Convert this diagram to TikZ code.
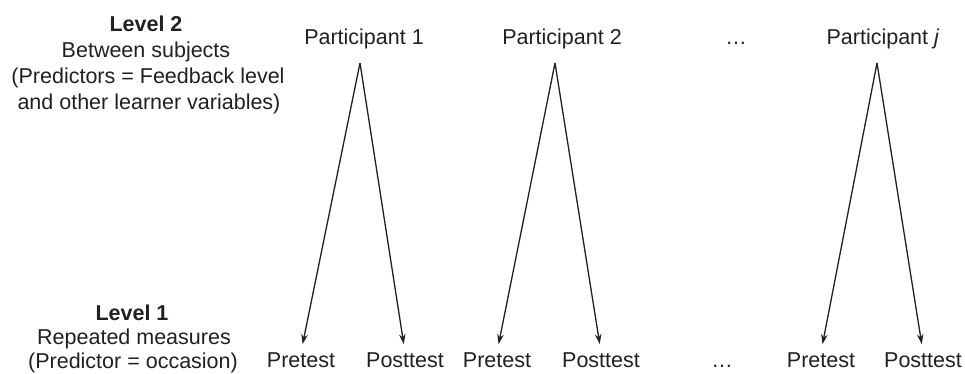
\documentclass[tikz,border=0pt]{standalone}
\usepackage{fontspec}
\setmainfont{Liberation Sans}
\usetikzlibrary{arrows.meta}
\definecolor{ink}{HTML}{231F20}
\begin{document}
\begin{tikzpicture}[x=1pt,y=-1pt,
  lbl/.style={inner sep=0pt,anchor=base,text=ink,font=\fontsize{21.5}{26}\selectfont},
  hd/.style={lbl,font=\fontsize{21.5}{26}\selectfont\bfseries},
  arr/.style={draw=ink,line width=1.3pt,shorten >=8pt,-{Stealth[length=10pt,width=6.5pt]}}]
\useasboundingbox (0,0) rectangle (965,374);
% left labels
\node[hd]  (l2a) at (146,32)  {Level 2};
\node[lbl] (l2b) at (146,58)  {Between subjects};
\node[lbl] (l2c) at (148,84)  {(Predictors = Feedback level};
\node[lbl] (l2d) at (149,110) {and other learner variables)};
\node[hd]  (l1a) at (132,320) {Level 1};
\node[lbl] (l1b) at (134,344) {Repeated measures};
\node[lbl] (l1c) at (133,368) {(Predictor = occasion)};
% participants
\node[lbl] (p1) at (364,45) {Participant 1};
\node[lbl] (p2) at (562,45) {Participant 2};
\node[lbl] (pd) at (736,45) {\dots};
\node[lbl] (pj) at (883,45) {Participant \textit{j}};
% measures
\node[lbl] (pre1)  at (301,367) {Pretest};
\node[lbl] (post1) at (405,367) {Posttest};
\node[lbl] (pre2)  at (497,367) {Pretest};
\node[lbl] (post2) at (601,367) {Posttest};
\node[lbl] (bd)    at (722,367) {\dots};
\node[lbl] (prej)  at (821,367) {Pretest};
\node[lbl] (postj) at (923,367) {Posttest};
% apexes
\coordinate (a1) at (360,63);
\coordinate (a2) at (555,63);
\coordinate (aj) at (877,63);
\draw[arr] (a1) -- (pre1.north);
\draw[arr] (a1) -- (post1.north);
\draw[arr] (a2) -- (pre2.north);
\draw[arr] (a2) -- (post2.north);
\draw[arr] (aj) -- (prej.north);
\draw[arr] (aj) -- (postj.north);
\end{tikzpicture}
\end{document}
